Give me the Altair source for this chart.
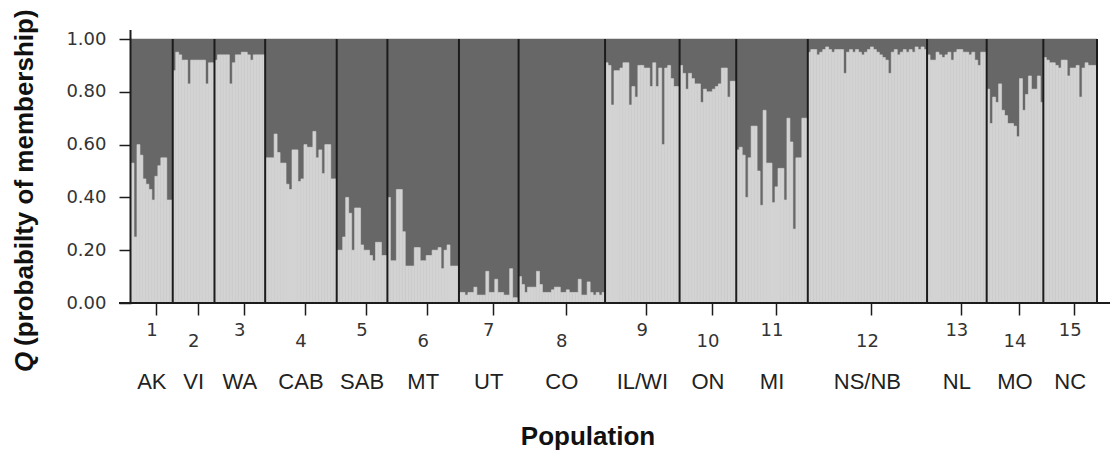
import altair as alt
import pandas as pd

# ---------------- data ----------------
pop_numbers = list(range(1, 16))
pop_names = ["AK", "VI", "WA", "CAB", "SAB", "MT", "UT", "CO",
             "IL/WI", "ON", "MI", "NS/NB", "NL", "MO", "NC"]

# Q (membership in the light cluster) for each individual, per population
q_AK = [0.53, 0.25, 0.60, 0.56, 0.47, 0.45, 0.43, 0.39, 0.48, 0.52, 0.55, 0.55, 0.39, 0.39]
q_VI = [0.88, 0.95, 0.94, 0.92, 0.92, 0.83, 0.92, 0.92, 0.92, 0.92, 0.92, 0.83, 0.91, 0.91]
q_WA = [0.92, 0.94, 0.94, 0.94, 0.94, 0.83, 0.91, 0.94, 0.94, 0.95, 0.95, 0.94, 0.92, 0.94, 0.94, 0.94, 0.94]
q_CAB = [0.55, 0.55, 0.55, 0.64, 0.57, 0.53, 0.53, 0.45, 0.43, 0.58, 0.58, 0.46, 0.47, 0.60, 0.59, 0.59,
         0.65, 0.55, 0.58, 0.49, 0.60, 0.60, 0.47, 0.47]
q_SAB = [0.20, 0.20, 0.25, 0.40, 0.34, 0.20, 0.36, 0.36, 0.22, 0.20, 0.20, 0.18, 0.16, 0.23, 0.23, 0.18, 0.18]
q_MT = [0.40, 0.16, 0.16, 0.43, 0.43, 0.27, 0.14, 0.14, 0.14, 0.21, 0.21, 0.16, 0.16, 0.18, 0.18, 0.20,
        0.20, 0.21, 0.13, 0.20, 0.22, 0.14, 0.14, 0.14]
q_UT = [0.04, 0.04, 0.03, 0.04, 0.04, 0.06, 0.03, 0.03, 0.03, 0.12, 0.04, 0.04, 0.09, 0.04, 0.04, 0.03,
        0.03, 0.13, 0.02, 0.02]
q_CO = [0.10, 0.07, 0.04, 0.06, 0.06, 0.06, 0.12, 0.07, 0.04, 0.04, 0.04, 0.05, 0.06, 0.06, 0.04, 0.04,
        0.05, 0.04, 0.04, 0.04, 0.09, 0.03, 0.03, 0.08, 0.04, 0.03, 0.04, 0.03, 0.04]
q_ILWI = [0.91, 0.90, 0.75, 0.88, 0.88, 0.89, 0.91, 0.91, 0.75, 0.82, 0.78, 0.90, 0.90, 0.89, 0.89, 0.82,
          0.91, 0.82, 0.89, 0.60, 0.89, 0.90, 0.85, 0.82, 0.82]
q_ON = [0.90, 0.87, 0.81, 0.87, 0.85, 0.83, 0.83, 0.76, 0.81, 0.80, 0.80, 0.81, 0.82, 0.83, 0.89, 0.89,
        0.78, 0.84, 0.84]
q_MI = [0.58, 0.59, 0.56, 0.40, 0.55, 0.67, 0.67, 0.50, 0.37, 0.73, 0.53, 0.53, 0.38, 0.44, 0.51, 0.51,
        0.39, 0.70, 0.61, 0.28, 0.55, 0.55, 0.70, 0.70]
q_NSNB = [0.95, 0.96, 0.96, 0.94, 0.95, 0.96, 0.97, 0.96, 0.95, 0.96, 0.96, 0.96, 0.87, 0.95, 0.96, 0.95,
          0.96, 0.95, 0.94, 0.95, 0.96, 0.97, 0.96, 0.95, 0.94, 0.93, 0.92, 0.87, 0.95, 0.96, 0.94, 0.95,
          0.96, 0.95, 0.96, 0.95, 0.97, 0.96, 0.97, 0.96]
q_NL = [0.94, 0.92, 0.92, 0.95, 0.94, 0.93, 0.94, 0.95, 0.92, 0.95, 0.96, 0.96, 0.95, 0.95, 0.94, 0.95,
        0.92, 0.90, 0.95, 0.95]
q_MO = [0.81, 0.68, 0.78, 0.76, 0.83, 0.73, 0.71, 0.68, 0.68, 0.67, 0.63, 0.85, 0.73, 0.79, 0.86, 0.81,
        0.81, 0.86, 0.76]
q_NC = [0.93, 0.92, 0.91, 0.91, 0.90, 0.89, 0.92, 0.92, 0.86, 0.89, 0.89, 0.90, 0.78, 0.89, 0.91, 0.90,
        0.90, 0.90]

q_values = [q_AK, q_VI, q_WA, q_CAB, q_SAB, q_MT, q_UT, q_CO,
            q_ILWI, q_ON, q_MI, q_NSNB, q_NL, q_MO, q_NC]
y_tick_values = [0.0, 0.2, 0.4, 0.6, 0.8, 1.0]

# ---------------- tables built from the arrays ----------------
ind_rows, pop_rows = [], []
start = 0
for num, name, qs in zip(pop_numbers, pop_names, q_values):
    for k, q in enumerate(qs):
        ind_rows.append({"i0": start + k, "i1": start + k + 1, "q": q, "pop": name})
    end = start + len(qs)
    pop_rows.append({"num": str(num), "name": name, "start": start, "end": end,
                     "mid": (start + end) / 2, "odd": num % 2})
    start = end
N = start
mids = [r["mid"] for r in pop_rows]

ind = pd.DataFrame(ind_rows)
pops = pd.DataFrame(pop_rows)
one = pd.DataFrame({"k": [0]})

DARK = "#676767"
LIGHT = "#d3d3d3"
INK = "#1c1c1c"

xscale = alt.Scale(domain=[0, N], nice=False, zero=False)
yscale = alt.Scale(domain=[0, 1], nice=False, zero=False)

dark = alt.Chart(pops).mark_rect(color=DARK, stroke=DARK, strokeWidth=0.5).encode(
    x=alt.X("start:Q", scale=xscale),
    x2="end:Q",
    y=alt.datum(0, scale=yscale),
    y2=alt.datum(1),
)

light = alt.Chart(ind).mark_rect(color=LIGHT, stroke=LIGHT, strokeWidth=0.6).encode(
    x=alt.X("i0:Q", scale=xscale,
            axis=alt.Axis(values=mids, labels=False, title=None, tickSize=12, tickOffset=4,
                          tickColor=INK, tickWidth=1.5, domain=False, grid=False)),
    x2="i1:Q",
    y=alt.Y("q:Q", scale=yscale,
            axis=alt.Axis(values=y_tick_values, format=".2f", title=None,
                          labelFont="DejaVu Sans", labelFontSize=18, labelColor="#333333",
                          labelPadding=13, tickSize=12, tickColor=INK, tickWidth=1.5,
                          domain=False, grid=False)),
    y2=alt.datum(0),
)

seps = alt.Chart(pops).mark_rule(color=INK, strokeWidth=2).encode(
    x=alt.X("end:Q", scale=xscale)
)

yline = alt.Chart(one).mark_rule(color=INK, strokeWidth=2).encode(
    x=alt.value(-0.5), y=alt.value(-9), y2=alt.value(264)
)
xline = alt.Chart(one).mark_rule(color=INK, strokeWidth=2).encode(
    x=alt.value(-12), x2=alt.value(979), y=alt.value(264)
)

num_odd = alt.Chart(pops).transform_filter("datum.odd == 1").mark_text(
    font="DejaVu Sans", fontSize=18, color="#333333", baseline="middle"
).encode(x=alt.X("mid:Q", scale=xscale), y=alt.value(292), text="num:N")

num_even = alt.Chart(pops).transform_filter("datum.odd == 0").mark_text(
    font="DejaVu Sans", fontSize=18, color="#333333", baseline="middle"
).encode(x=alt.X("mid:Q", scale=xscale), y=alt.value(303), text="num:N")

names = alt.Chart(pops).mark_text(
    font="Liberation Sans", fontSize=22, color="#222222", baseline="middle"
).encode(x=alt.X("mid:Q", scale=xscale), y=alt.value(343), text="name:N")

xtitle = alt.Chart(one).mark_text(
    font="Liberation Sans", fontSize=26, fontWeight="bold", color="#111111",
    baseline="middle", align="center"
).encode(x=alt.value(457), y=alt.value(398), text=alt.value("Population"))

ytitle_q = alt.Chart(one).mark_text(
    font="Liberation Sans", fontSize=26, fontWeight="bold", fontStyle="italic",
    color="#111111", baseline="middle", align="left", angle=270
).encode(x=alt.value(-106), y=alt.value(333), text=alt.value("Q"))

ytitle_rest = alt.Chart(one).mark_text(
    font="Liberation Sans", fontSize=26, fontWeight="bold",
    color="#111111", baseline="middle", align="left", angle=270
).encode(x=alt.value(-106), y=alt.value(307), text=alt.value("(probabilty of membership)"))

chart = alt.layer(
    dark, light, seps, yline, xline, num_odd, num_even, names, xtitle, ytitle_q, ytitle_rest
).properties(
    width=966, height=264,
    autosize="none",
    padding={"left": 131, "top": 39, "right": 18, "bottom": 149},
    background="white",
).configure_view(stroke=None)

chart.save("out.html", embed_options={"renderer": "svg", "actions": False})
